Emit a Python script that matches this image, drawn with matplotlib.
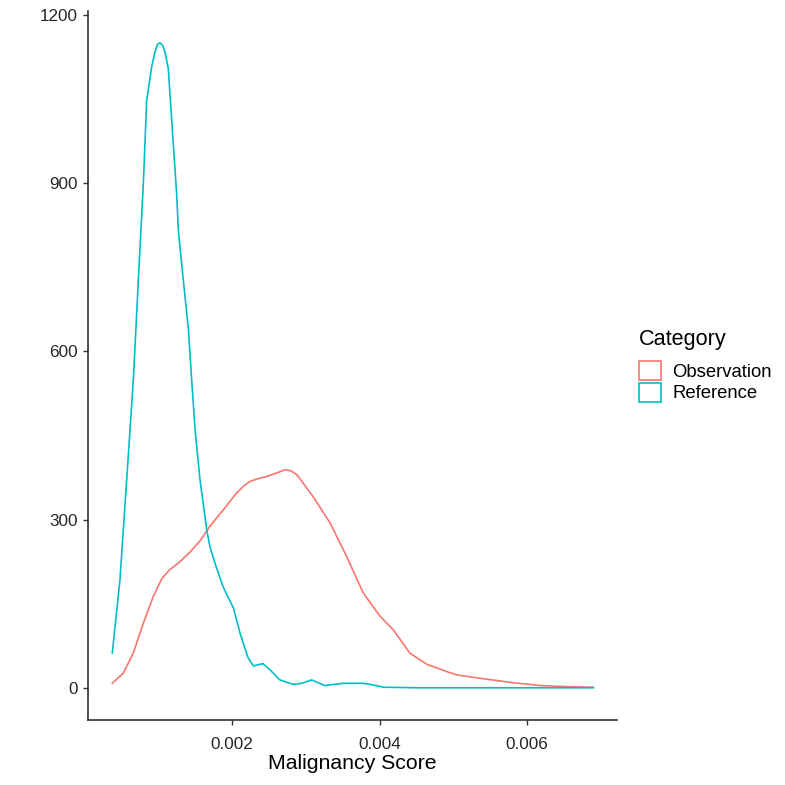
import numpy as np
import matplotlib.pyplot as plt
from matplotlib.patches import Patch

plt.rcParams['font.family'] = ['Liberation Sans', 'DejaVu Sans']

# density curves, x in malignancy score (x 1e-3), y in density
obs_x = [0.377, 0.526, 0.662, 0.797, 0.933, 1.05, 1.15, 1.295, 1.43, 1.566, 1.70, 1.84, 1.88,
         2.06, 2.15, 2.24, 2.35, 2.47, 2.60, 2.72, 2.80, 2.88, 3.10, 3.33, 3.555, 3.78, 4.005,
         4.19, 4.41, 4.64, 4.93, 5.05, 5.36, 5.81, 6.18, 6.54, 6.90]
obs_y = [8, 26, 62, 115, 163, 195, 210, 225, 242, 262, 288, 311, 317,
         347, 359, 368, 373, 377, 383, 389, 387, 380, 341, 294, 234, 169, 128,
         103, 62, 42, 28, 23, 17, 9, 4, 2, 1]

ref_x = [0.377, 0.481, 0.572, 0.662, 0.73, 0.798, 0.843, 0.911, 0.956, 0.99, 1.024, 1.06,
         1.09, 1.136, 1.204, 1.25, 1.272, 1.34, 1.41, 1.453, 1.50, 1.566, 1.657, 1.70,
         1.77, 1.84, 1.88, 2.02, 2.11, 2.22, 2.29, 2.35, 2.42, 2.515, 2.65, 2.83, 2.945,
         3.08, 3.26, 3.51, 3.78, 3.915, 4.05, 4.5, 5.0, 5.5, 6.0, 6.5, 6.90]
ref_y = [62, 193, 371, 549, 727, 900, 1048, 1108, 1135, 1148, 1151, 1146,
         1135, 1105, 970, 880, 817, 727, 638, 549, 460, 371, 282, 252,
         222, 195, 180, 142, 97, 53, 39, 41, 43, 32, 14, 6, 8,
         14, 4, 8, 8, 5, 1, 0, 0, 0, 0, 0, 0]

categories = ['Observation', 'Reference']
colors = ['#F8766D', '#00BFC4']

fig = plt.figure(figsize=(7.85, 7.85), dpi=100)
ax = fig.add_axes([88/785, 65/785, 529/785, 709/785])

ax.plot(np.array(obs_x) / 1000, obs_y, color=colors[0], lw=1.2)
ax.plot(np.array(ref_x) / 1000, ref_y, color=colors[1], lw=1.2)

ax.set_xlim(0.0000475, 0.00722)
ax.set_ylim(-57.5, 1207.5)
ax.set_xticks([0.002, 0.004, 0.006])
ax.set_xticklabels(['0.002', '0.004', '0.006'])
ax.set_yticks([0, 300, 600, 900, 1200])

for s in ['top', 'right']:
    ax.spines[s].set_visible(False)
for s in ['left', 'bottom']:
    ax.spines[s].set_linewidth(1.1)
    ax.spines[s].set_color('#222222')
ax.tick_params(length=3.6, width=1.0, color='#333333', labelsize=12.3, labelcolor='#262626')
ax.tick_params(axis='x', pad=8.5)
ax.tick_params(axis='y', pad=3.5)
ax.set_xlabel('Malignancy Score', fontsize=15.3, color='black', labelpad=1.5)

handles = [Patch(facecolor='white', edgecolor=c, linewidth=1.2) for c in colors]
leg = fig.legend(handles, categories, title='Category', loc='upper left',
                 bbox_to_anchor=(639/785, 1 - 329/785), frameon=False,
                 fontsize=13.3, title_fontsize=15.6, handlelength=1.2, handleheight=1.2,
                 handletextpad=0.6, labelspacing=0.1, borderaxespad=0, borderpad=0)
leg._legend_box.align = 'left'
leg._legend_box.sep = 8

fig.savefig('out.png', dpi=100)
